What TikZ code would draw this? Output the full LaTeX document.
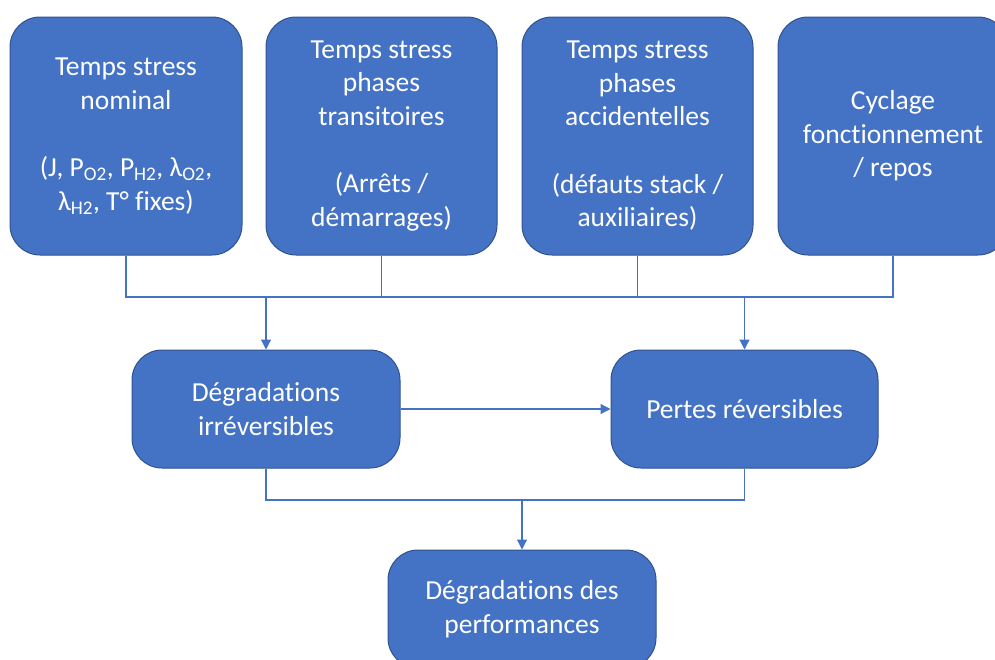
\documentclass[tikz,border=0pt]{standalone}
\usepackage{fontspec}
\setmainfont{Carlito}[RawFeature=-liga]
\usetikzlibrary{arrows.meta}
\definecolor{boxfill}{HTML}{4472C4}
\definecolor{boxedge}{HTML}{2F528F}
\definecolor{linec}{HTML}{4472C4}
\begin{document}
\begin{tikzpicture}[x=1pt,y=-1pt,
  box/.style={draw=boxedge,line width=1pt,fill=boxfill,rounded corners=30pt,text=white,
    align=center,font=\fontsize{27.5}{33.5}\selectfont,inner sep=0pt},
  conn/.style={draw=linec,line width=1.2pt},
  arr/.style={conn,-{Triangle[width=10pt,length=10pt]}}]
\useasboundingbox (0,0) rectangle (995,659);
\lineskiplimit=-20pt
\node[box,minimum width=232pt,minimum height=238pt] (b1) at (126,136) {Temps stress\\nominal\\[34pt](J, P\textsubscript{O2}, P\textsubscript{H2}, λ\textsubscript{O2},\\λ\textsubscript{H2}, T° fixes)};
\node[box,minimum width=231pt,minimum height=238pt] (b2) at (381.5,136) {Temps stress\\phases\\transitoires\\[34pt](Arrêts /\\démarrages)};
\node[box,minimum width=231pt,minimum height=238pt] (b3) at (637.5,136) {Temps stress\\phases\\accidentelles\\[34pt](défauts stack /\\auxiliaires)};
\node[box,minimum width=230pt,minimum height=238pt] (b4) at (893,136) {Cyclage\\fonctionnement\\/ repos};
\node[box,minimum width=268pt,minimum height=118pt] (m1) at (266,409) {Dégradations\\irréversibles};
\node[box,minimum width=267pt,minimum height=118pt] (m2) at (744.5,409) {Pertes réversibles};
\node[box,minimum width=268pt,minimum height=118pt] (p) at (522,609) {Dégradations des\\performances};
\coordinate (j1) at (126,297);
\coordinate (j4) at (893,297);
\draw[conn] (b1.south) -- (j1) -- (j4) -- (b4.south);
\draw[conn] (b2.south) -- (b2.south |- j1);
\draw[conn] (b3.south) -- (b3.south |- j1);
\draw[arr] (m1.north |- j1) -- (m1.north);
\draw[arr] (m2.north |- j1) -- (m2.north);
\draw[arr] (m1.east) -- (m2.west);
\coordinate (k1) at (266,500);
\draw[conn] (m1.south) -- (k1) -- (m2.south |- k1) -- (m2.south);
\draw[arr] (p.north |- k1) -- (p.north);
\end{tikzpicture}
\end{document}
